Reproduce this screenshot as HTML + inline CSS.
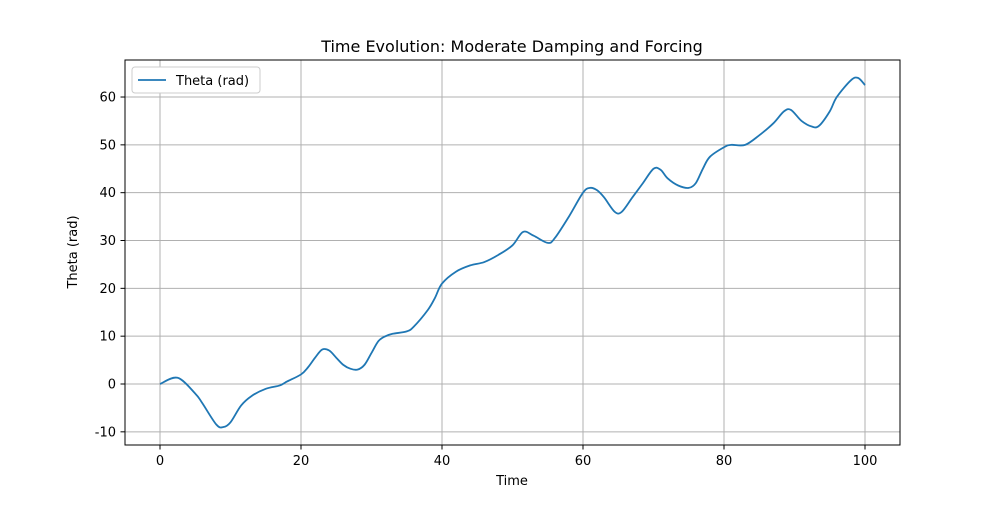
<!DOCTYPE html>
<html><head><meta charset="utf-8"><style>
body{margin:0;background:#fff;font-family:"Liberation Sans","DejaVu Sans",sans-serif}
text{font-family:"DejaVu Sans","Liberation Sans",sans-serif}
</style></head><body>
<svg id="chart" width="1000" height="500" viewBox="0 0 1000 500">
<rect width="1000" height="500" fill="#fff"/>
<g id="grid"></g><g id="ticks"></g>
<path id="series" fill="none" stroke="#1f77b4" stroke-width="1.8"/>
<rect x="125" y="60" width="775" height="385" fill="none" stroke="#000" stroke-width="1"/>
<text x="512" y="52" font-size="16" text-anchor="middle">Time Evolution: Moderate Damping and Forcing</text>
<text x="512" y="485" font-size="13" text-anchor="middle">Time</text>
<text x="77" y="252" font-size="13" text-anchor="middle" transform="rotate(-90 77 252)">Theta (rad)</text>
<g>
<rect x="132" y="67" width="128" height="26" rx="3" fill="#fff" stroke="#ccc"/>
<line x1="138" y1="80" x2="166" y2="80" stroke="#1f77b4" stroke-width="1.8"/>
<text x="176" y="85" font-size="13">Theta (rad)</text>
</g>
</svg>
<script>
const times=[0,2.5,5,6,8,9,10,11.5,13,15,17,18,20,21,22,23,24,25,26,27,28,29,30,31,32,33,35,36,38,39,40,42,44,46,48,50,51.5,53,55,56,58,60,61,62,63,64.5,65.5,67,68.5,70,71,72,73.5,75,76,77,78,80,81,83,85,87,88.5,89.5,91,92.5,93.5,95,96,98,99,100];
const theta=[0,1.3,-2,-4,-8.5,-9,-8,-4.5,-2.5,-1,-0.3,0.5,2,3.5,5.5,7.2,7,5.5,4,3.2,3,4,6.5,9,10,10.5,11,12,15.5,18,21,23.5,24.8,25.5,27,29,31.8,31,29.5,30.5,35,40,41,40.5,39,36,36,39,42,45,44.8,43,41.5,41,42,45,47.5,49.5,50,50,52,54.5,57,57.3,55,53.8,54,57,60,63.5,64,62.5];
const xTicks=[0,20,40,60,80,100];
const yTicks=[-10,0,10,20,30,40,50,60];
const X=v=>160+v*7.05, Y=v=>384-v*4.783;
const ns='http://www.w3.org/2000/svg';
const grid=document.getElementById('grid'), tk=document.getElementById('ticks');
function mk(tag,a,p){const e=document.createElementNS(ns,tag);for(const k in a)e.setAttribute(k,a[k]);p.appendChild(e);return e;}
xTicks.forEach(v=>{
 const g=mk('line',{x1:X(v),x2:X(v),y1:60,y2:445,stroke:'#b0b0b0','stroke-width':1},grid);
 
 
 mk('line',{x1:X(v),x2:X(v),y1:445,y2:449.5,stroke:'#000'},tk);
 const t=mk('text',{x:X(v),y:465,'font-size':13,'text-anchor':'middle'},tk);t.textContent=v;
 
 
});
yTicks.forEach(v=>{
 const g=mk('line',{x1:125,x2:900,y1:Y(v),y2:Y(v),stroke:'#b0b0b0','stroke-width':1},grid);
 
 
 mk('line',{x1:120.5,x2:125,y1:Y(v),y2:Y(v),stroke:'#000'},tk);
 const t=mk('text',{x:116,y:Y(v)+4.5,'font-size':13,'text-anchor':'end'},tk);t.textContent=v;
 
 
});
const P=times.map((t,i)=>[X(t),Y(theta[i])]);
let d='M'+P[0][0]+','+P[0][1];
for(let i=0;i<P.length-1;i++){
 const p0=P[Math.max(0,i-1)],p1=P[i],p2=P[i+1],p3=P[Math.min(P.length-1,i+2)];
 const c1=[p1[0]+(p2[0]-p0[0])/6,p1[1]+(p2[1]-p0[1])/6];
 const c2=[p2[0]-(p3[0]-p1[0])/6,p2[1]-(p3[1]-p1[1])/6];
 d+=` C${c1[0]},${c1[1]} ${c2[0]},${c2[1]} ${p2[0]},${p2[1]}`;
}
document.getElementById('series').setAttribute('d',d);
</script>
</body></html>
